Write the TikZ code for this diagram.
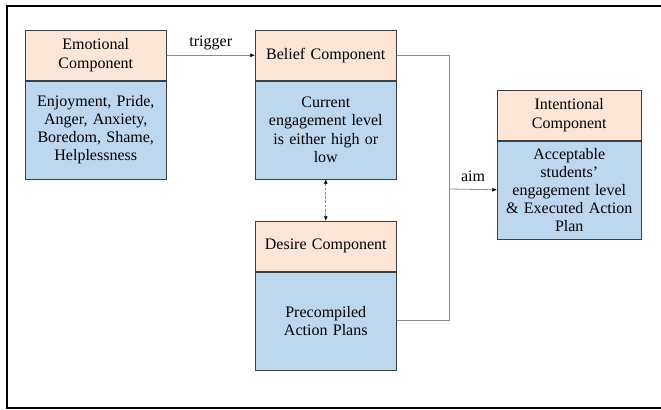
\documentclass[tikz,border=0pt]{standalone}
\usepackage{fontspec}
\setmainfont{Liberation Serif}
\usetikzlibrary{positioning,arrows.meta}
\definecolor{headfill}{HTML}{FBE5D6}
\definecolor{bodyfill}{HTML}{BDD7EE}
\definecolor{edgegray}{HTML}{3F3F3F}
\definecolor{linkgray}{HTML}{8C8C8C}
\tikzset{%
    every node/.style={font=\rmfamily\fontsize{12}{13.6}\selectfont, align=center},
    head/.style={rectangle, draw=edgegray, fill=headfill, text width=105.75pt,
    	inner xsep=0pt, minimum height=37.5pt, font=\rmfamily\fontsize{12}{14.2}\selectfont},
    body/.style={rectangle, draw=edgegray, fill=bodyfill, text width=105.75pt,
    	inner xsep=0pt, inner ysep=0pt, minimum height=73.5pt},
    link/.style={draw=linkgray, line width=0.6pt}
}

\begin{document}
\begin{tikzpicture}[x=0.75pt, y=-0.75pt]
	\useasboundingbox (0,0) rectangle (661,410);
	\draw[line width=1pt] (7,6) rectangle (666,408);
	% the four components
	\node[head, anchor=north west] (eh) at (25,30) {Emotional\\Component};
	\node[body, below=0pt of eh] (eb) {Enjoyment, Pride,\\Anger, Anxiety,\\Boredom, Shame,\\Helplessness};
	\node[head, anchor=north west] (bh) at (255,30) {Belief Component};
	\node[body, below=0pt of bh] (bb) {Current\\engagement level\\is either high or\\low};
	\node[head, anchor=north west] (dh) at (255,221) {Desire Component};
	\node[body, below=0pt of dh] (db) {Precompiled\\Action Plans};
	\node[head, anchor=north west, text width=108pt] (ih) at (497,90) {Intentional\\Component};
	\node[body, below=0pt of ih, text width=108pt] (ib) {Acceptable\\students’\\engagement level\\\& Executed Action\\Plan};
	% links
	\coordinate (join) at (449,189);
	\draw[link, -{Latex[length=3.5pt, width=3pt, color=black]}] (eh) -- node[above] {trigger} (bh);
	\draw[link, dashed, dash pattern=on 2pt off 1.2pt,
		{Latex[length=3.5pt, width=3pt, color=black]}-{Latex[length=3.5pt, width=3pt, color=black]}] (bb) -- (dh);
	\draw[link] (bh.east) -| (join);
	\draw[link] (db.east) -| (join);
	\draw[link, -{Latex[length=3.5pt, width=3pt, color=black]}] (join) -- node[above=2pt] {aim} (ib.west);
\end{tikzpicture}
\end{document}
